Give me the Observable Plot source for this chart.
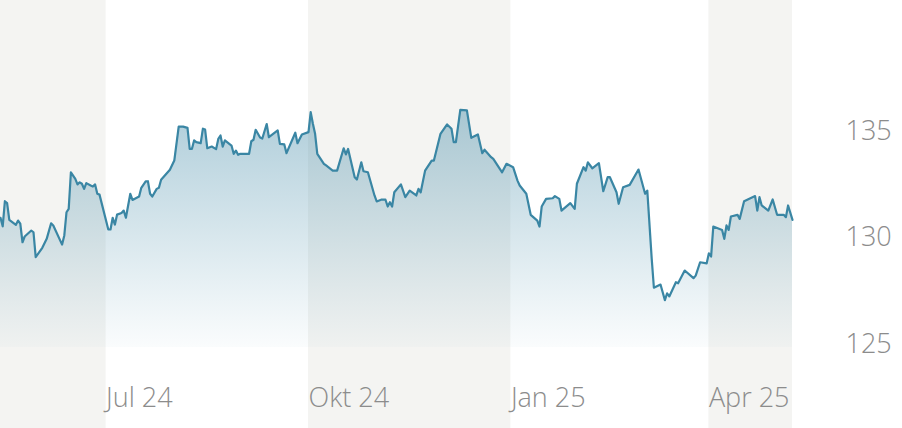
<!DOCTYPE html>
<html>
<head>
<meta charset="utf-8">
<script src="https://cdn.jsdelivr.net/npm/d3@7"></script>
<script src="https://cdn.jsdelivr.net/npm/@observablehq/plot@0.6"></script>
<style>
  html, body { margin: 0; padding: 0; background: #ffffff; }
  #chart svg { display: block; }
</style>
</head>
<body>
<div id="chart"></div>
<script>
// ---- data ----
const dates = [
  "2024-05-14","2024-05-15","2024-05-16","2024-05-17","2024-05-18","2024-05-21","2024-05-22","2024-05-23","2024-05-24","2024-05-25",
  "2024-05-28","2024-05-29","2024-05-30","2024-06-02","2024-06-04","2024-06-06","2024-06-07","2024-06-11","2024-06-12","2024-06-13",
  "2024-06-14","2024-06-15","2024-06-17","2024-06-18","2024-06-19","2024-06-20","2024-06-21","2024-06-22","2024-06-24","2024-06-25",
  "2024-06-26","2024-06-27","2024-06-28","2024-07-02","2024-07-03","2024-07-04","2024-07-05","2024-07-06","2024-07-08","2024-07-09",
  "2024-07-10","2024-07-12","2024-07-13","2024-07-16","2024-07-17","2024-07-19","2024-07-20","2024-07-21","2024-07-22","2024-07-24",
  "2024-07-25","2024-07-26","2024-07-30","2024-08-01","2024-08-03","2024-08-05","2024-08-07","2024-08-08","2024-08-09","2024-08-10",
  "2024-08-11","2024-08-13","2024-08-14","2024-08-15","2024-08-16","2024-08-18","2024-08-20","2024-08-21","2024-08-22","2024-08-23",
  "2024-08-24","2024-08-27","2024-08-28","2024-08-29","2024-08-30","2024-08-31","2024-09-04","2024-09-05","2024-09-06","2024-09-07",
  "2024-09-09","2024-09-10","2024-09-12","2024-09-13","2024-09-17","2024-09-18","2024-09-20","2024-09-21","2024-09-25","2024-09-26",
  "2024-09-28","2024-10-01","2024-10-02","2024-10-03","2024-10-04","2024-10-05","2024-10-08","2024-10-09","2024-10-12","2024-10-14",
  "2024-10-17","2024-10-18","2024-10-19","2024-10-22","2024-10-23","2024-10-25","2024-10-26","2024-10-28","2024-10-31","2024-11-01",
  "2024-11-03","2024-11-05","2024-11-06","2024-11-07","2024-11-08","2024-11-09","2024-11-12","2024-11-14","2024-11-16","2024-11-19",
  "2024-11-20","2024-11-21","2024-11-23","2024-11-26","2024-11-27","2024-11-30","2024-12-03","2024-12-05","2024-12-06","2024-12-07",
  "2024-12-09","2024-12-12","2024-12-14","2024-12-17","2024-12-19","2024-12-20","2024-12-23","2024-12-24","2024-12-28","2024-12-30",
  "2025-01-02","2025-01-04","2025-01-05","2025-01-08","2025-01-10","2025-01-13","2025-01-14","2025-01-15","2025-01-17","2025-01-20",
  "2025-01-21","2025-01-23","2025-01-24","2025-01-28","2025-01-30","2025-01-31","2025-02-03","2025-02-04","2025-02-05","2025-02-07",
  "2025-02-10","2025-02-12","2025-02-14","2025-02-15","2025-02-18","2025-02-19","2025-02-21","2025-02-24","2025-02-28","2025-03-03",
  "2025-03-04","2025-03-06","2025-03-07","2025-03-10","2025-03-12","2025-03-13","2025-03-14","2025-03-17","2025-03-18","2025-03-21",
  "2025-03-25","2025-03-26","2025-03-28","2025-03-31","2025-04-01","2025-04-02","2025-04-03","2025-04-07","2025-04-08","2025-04-09",
  "2025-04-10","2025-04-11","2025-04-14","2025-04-15","2025-04-17","2025-04-22","2025-04-23","2025-04-24","2025-04-25","2025-04-28",
  "2025-04-30","2025-05-02","2025-05-05","2025-05-06","2025-05-07","2025-05-09"
];
const prices = [
  130.93,130.53,131.71,131.62,130.83,130.60,130.80,130.65,129.78,130.05,
  130.33,130.25,129.08,129.52,129.94,130.67,130.57,129.67,130.10,131.19,
  131.35,133.07,132.76,132.50,132.60,132.53,132.29,132.56,132.45,132.40,
  132.50,132.06,132.02,130.38,130.38,130.93,130.61,131.08,131.16,131.27,
  130.93,132.06,131.77,131.93,132.34,132.64,132.65,132.06,131.93,132.29,
  132.34,132.72,133.19,133.62,135.22,135.22,135.16,134.17,134.17,134.57,
  134.49,134.44,135.12,135.08,134.20,134.28,134.16,134.64,134.80,134.28,
  134.57,134.33,133.94,134.09,133.89,133.94,133.94,134.53,134.60,135.07,
  134.71,134.66,135.34,134.72,135.04,134.41,134.38,133.97,134.93,134.44,
  134.85,134.96,135.90,135.35,134.88,133.94,133.47,133.39,133.15,133.15,
  134.20,133.91,134.17,132.84,132.73,133.54,133.12,133.07,131.98,131.70,
  131.78,131.78,131.46,131.66,131.46,132.13,132.50,131.90,132.21,131.98,
  132.29,132.13,133.15,133.62,133.62,134.88,135.32,135.12,134.49,134.49,
  136.01,135.98,134.69,134.85,133.97,134.13,133.78,133.70,133.07,133.47,
  133.31,132.68,132.45,132.06,131.07,130.80,130.52,131.46,131.82,131.85,
  131.95,131.82,131.27,131.62,131.35,132.53,133.31,133.15,133.54,133.26,
  133.50,132.18,132.84,132.84,132.13,131.59,132.37,132.48,133.20,132.06,
  132.21,129.01,127.64,127.79,127.06,127.38,127.23,127.90,127.85,128.45,
  128.09,128.21,128.84,128.79,129.26,129.11,130.52,130.36,129.94,130.57,
  130.36,130.99,131.07,130.88,131.71,131.95,131.27,131.90,131.51,131.27,
  131.79,131.07,131.07,130.96,131.51,130.83
];
const xDomain = ["2024-05-14", "2025-05-09"];
const yDomain = [121.02, 141.15];
const areaBase = 124.83;
const bandStarts = ["2024-05-14", "2024-10-01", "2025-04-01"];
const bandEnds   = ["2024-07-01", "2025-01-01", "2025-05-09"];
const xTickDates  = ["2024-07-01", "2024-10-01", "2025-01-01", "2025-04-01"];
const xTickLabels = ["Jul 24", "Okt 24", "Jan 25", "Apr 25"];
const yTicks = [125, 130, 135];

// ---- build tables ----
const parse = (s) => new Date(s + "T00:00:00Z");
const series = dates.map((d, i) => ({date: parse(d), price: prices[i]}));
const bands = bandStarts.map((s, i) => ({x1: parse(s), x2: parse(bandEnds[i])}));
const xTicks = xTickDates.map((d, i) => ({date: parse(d), label: xTickLabels[i]}));

const lineColor = "#3a86a4";
const textColor = "#8c8c8c";
const font = "'Open Sans', 'Noto Sans', sans-serif";

function gradientDefs() {
  const defs = d3.create("svg:defs");
  const g = defs.append("linearGradient")
    .attr("id", "areaGrad").attr("x1", 0).attr("y1", 0).attr("x2", 0).attr("y2", 1);
  g.append("stop").attr("offset", "0%").attr("stop-color", "#3f88a6").attr("stop-opacity", 0.42);
  g.append("stop").attr("offset", "50%").attr("stop-color", "#4a8fab").attr("stop-opacity", 0.23);
  g.append("stop").attr("offset", "100%").attr("stop-color", "#5a9ab4").attr("stop-opacity", 0.03);
  return defs.node();
}

const chart = Plot.plot({
  width: 902,
  height: 428,
  marginTop: 0,
  marginBottom: 0,
  marginLeft: 0,
  marginRight: 110,
  style: {fontFamily: font, fontSize: "27px", fontWeight: 300, color: textColor, background: "#ffffff"},
  x: {type: "utc", domain: xDomain.map(parse), axis: null},
  y: {domain: yDomain, axis: null},
  marks: [
    Plot.rect(bands, {x1: "x1", x2: "x2", fill: "#f4f4f2"}),
    gradientDefs,
    Plot.areaY(series, {x: "date", y1: areaBase, y2: "price", fill: "url(#areaGrad)"}),
    Plot.lineY(series, {x: "date", y: "price", stroke: lineColor, strokeWidth: 2.2, strokeLinejoin: "round"}),
    Plot.text(xTicks, {x: "date", text: "label", frameAnchor: "bottom", dy: -30, textAnchor: "start", lineAnchor: "middle", fill: textColor, fontSize: 27, fontWeight: 300}),
    Plot.axisY(yTicks, {anchor: "right", label: null, tickSize: 0, tickPadding: 53, textAnchor: "start", fill: textColor, fontSize: 27, fontWeight: 300})
  ]
});
document.getElementById("chart").appendChild(chart);
</script>
</body>
</html>
